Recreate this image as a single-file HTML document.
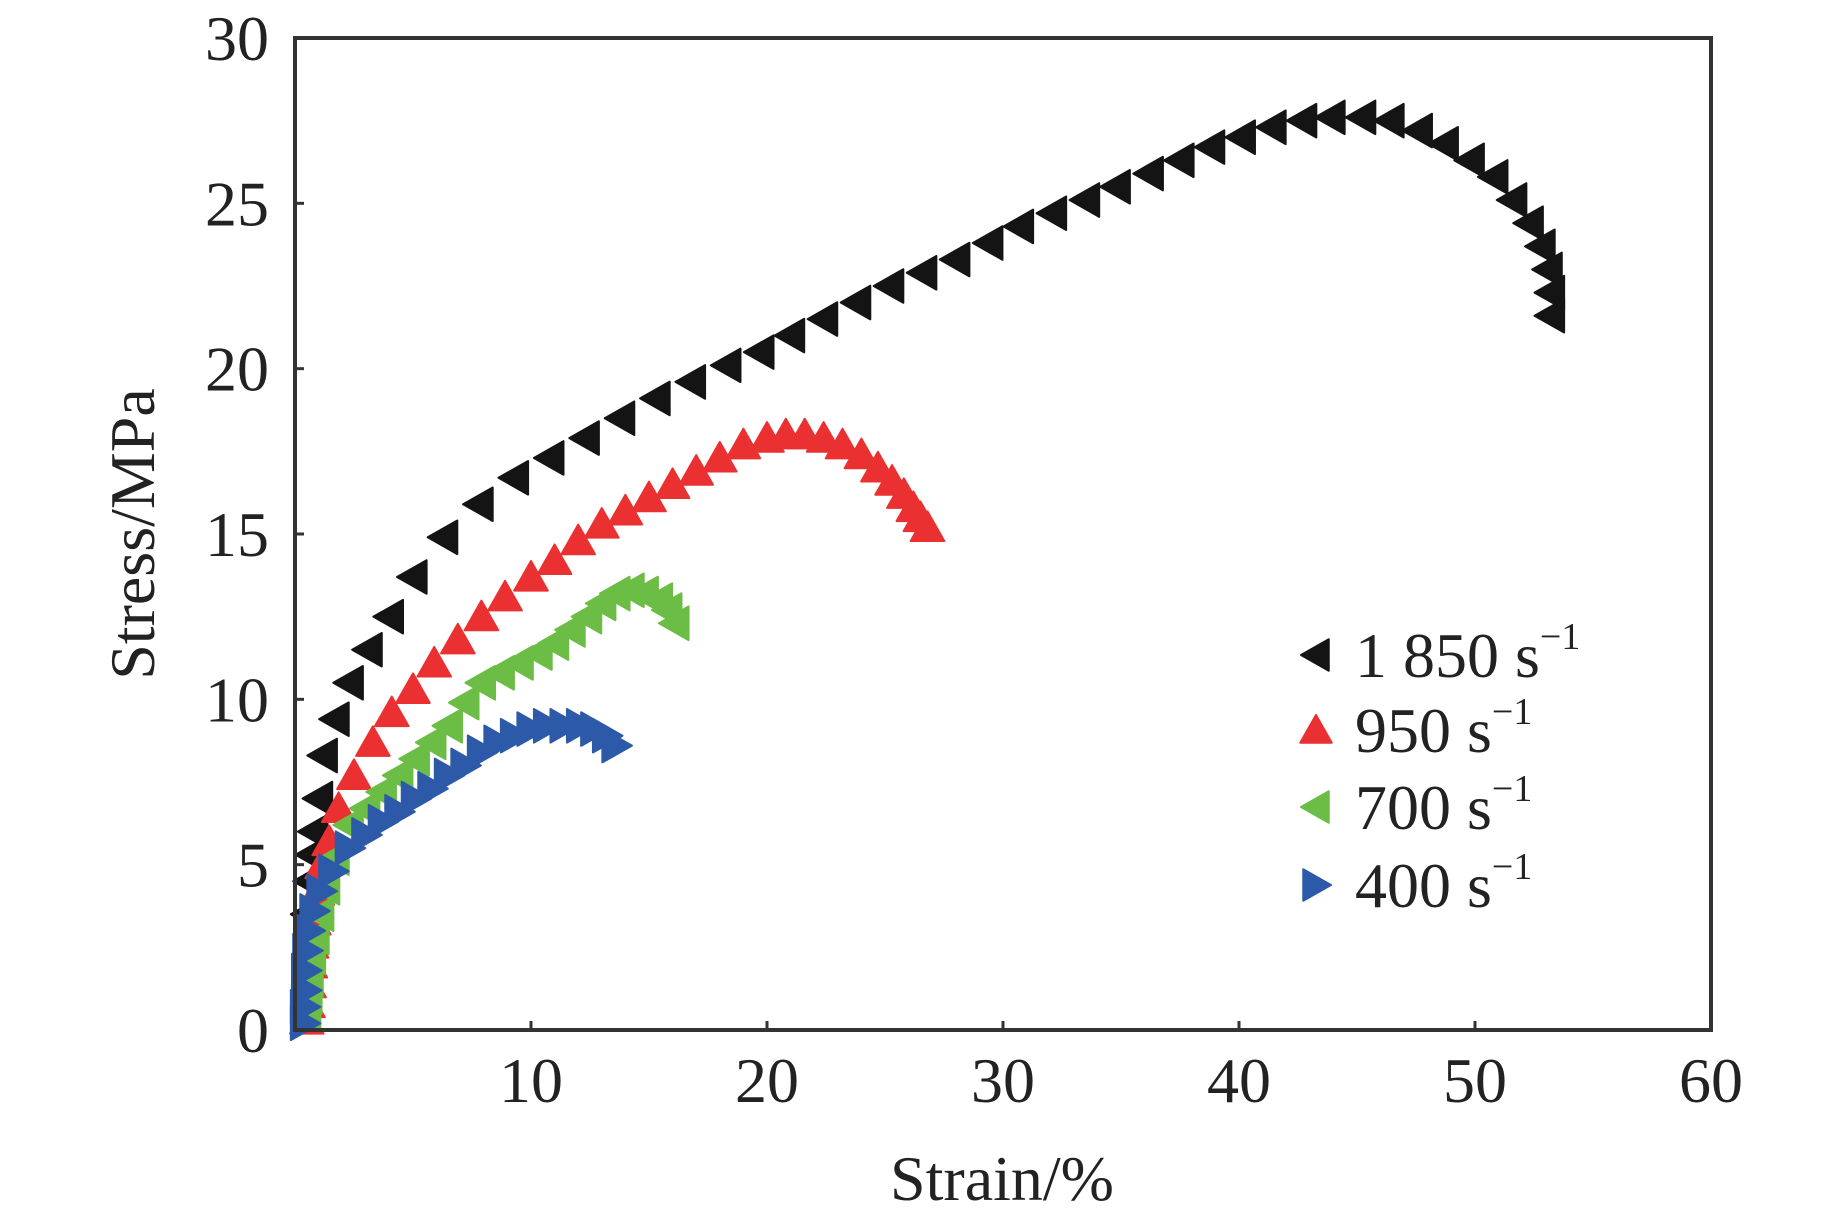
<!DOCTYPE html>
<html><head><meta charset="utf-8"><style>
html,body{margin:0;padding:0;background:#fff;}
svg{display:block;}
text{font-family:"Liberation Serif","Times New Roman",serif;fill:#222;}
</style></head><body>
<svg id="chart" width="1843" height="1217" viewBox="0 0 1843 1217">
<g id="marks"></g>
<rect x="295" y="38" width="1416" height="992" fill="none" stroke="#333" stroke-width="4"/>
<g id="ticks"></g>
<text x="1002" y="1200" font-size="64" text-anchor="middle">Strain/%</text>
<text x="0" y="0" font-size="64" text-anchor="middle" transform="translate(154,534) rotate(-90)">Stress/MPa</text>
<g id="legend"></g>
</svg>
<script>
const xTicks=[10,20,30,40,50,60];
const yTicks=[0,5,10,15,20,25,30];
const seriesNames=["1 850","950","700","400"];
const seriesColors=["#141414","#ea3030","#6cbd45","#2d5aa8"];
const seriesShapes=["left","up","left","right"];
const s1850x=[0.5,0.6,0.7,0.8,1,1.2,1.7,2.3,3.1,4,5,6.3,7.8,9.3,10.8,12.3,13.8,15.3,16.8,18.3,19.7,21,22.4,23.8,25.2,26.6,28,29.4,30.7,32.1,33.5,34.8,36.2,37.5,38.8,40.1,41.4,42.7,43.9,45.2,46.4,47.6,48.7,49.8,50.8,51.6,52.3,52.8,53.1,53.2,53.2];
const s1850y=[3.5,4.5,5.3,6,7,8.3,9.4,10.5,11.5,12.5,13.7,14.9,15.9,16.7,17.3,17.9,18.5,19.1,19.6,20.1,20.5,21,21.5,22,22.5,22.9,23.3,23.8,24.3,24.7,25.1,25.5,25.9,26.3,26.7,27,27.3,27.5,27.6,27.6,27.5,27.2,26.8,26.3,25.8,25.1,24.4,23.7,23,22.3,21.6];
const s950x=[0.5,0.55,0.6,0.65,0.7,0.8,0.95,1.15,1.45,1.85,2.5,3.3,4.1,5,5.9,6.9,7.9,8.9,10,11,12,13,14,15,16,17,18,19,20,20.8,21.6,22.4,23.2,24,24.7,25.3,25.8,26.2,26.5,26.8];
const s950y=[0.3,0.8,1.4,2,2.6,3.3,4.2,5,5.7,6.7,7.7,8.7,9.6,10.3,11.1,11.8,12.5,13.1,13.7,14.2,14.8,15.3,15.7,16.1,16.5,16.9,17.3,17.7,17.9,18,18,17.9,17.7,17.4,17,16.6,16.2,15.8,15.5,15.2];
const s700x=[0.5,0.55,0.6,0.7,0.85,1.05,1.3,1.7,2.3,3,3.7,4.4,5.1,5.8,6.5,7.2,7.9,8.7,9.5,10.3,11,11.7,12.4,13,13.6,14.2,14.8,15.4,15.8,16.1];
const s700y=[0.5,1,1.5,2.2,2.8,3.5,4.3,5.2,6.2,6.7,7.2,7.7,8.2,8.7,9.2,9.9,10.5,10.8,11.1,11.4,11.7,12.1,12.5,12.9,13.2,13.3,13.2,13,12.7,12.3];
const s400x=[0.4,0.4,0.45,0.45,0.5,0.6,0.8,1.1,1.6,2.3,3,3.7,4.4,5.1,5.8,6.5,7.2,7.9,8.6,9.3,10,10.7,11.4,12.1,12.7,13.2,13.6];
const s400y=[0.2,0.7,1.2,1.8,2.4,3,3.6,4.2,4.8,5.5,5.9,6.3,6.6,7,7.3,7.7,8,8.4,8.7,8.9,9.1,9.2,9.2,9.2,9.1,8.9,8.6];
const seriesX=[s1850x,s950x,s700x,s400x];
const seriesY=[s1850y,s950y,s700y,s400y];

const NS="http://www.w3.org/2000/svg";
const X0=295,X1=1711,Y0=1030,Y1=38;
function sx(v){return X0+(v/60)*(X1-X0);}
function sy(v){return Y0-(v/30)*(Y0-Y1);}
function tri(shape,cx,cy,s){
  const h=s/2;
  if(shape==="up")return `${cx},${cy-h} ${cx+h*1.05},${cy+h*0.85} ${cx-h*1.05},${cy+h*0.85}`;
  if(shape==="left")return `${cx-h},${cy} ${cx+h*0.85},${cy-h*1.05} ${cx+h*0.85},${cy+h*1.05}`;
  return `${cx+h},${cy} ${cx-h*0.85},${cy-h*1.05} ${cx-h*0.85},${cy+h*1.05}`;
}
const marks=document.getElementById('marks');
for(let s=0;s<seriesX.length;s++){
  const g=document.createElementNS(NS,'g');
  
  
  for(let i=0;i<seriesX[s].length;i++){
    const p=document.createElementNS(NS,'polygon');
    p.setAttribute('points',tri(seriesShapes[s],sx(seriesX[s][i]),sy(seriesY[s][i]),32));
    p.setAttribute('fill',seriesColors[s]);
    p.setAttribute('stroke',seriesColors[s]);
    p.setAttribute('stroke-width','2');
    p.setAttribute('stroke-linejoin','round');
    
    
    g.appendChild(p);
  }
  marks.appendChild(g);
}
const ticks=document.getElementById('ticks');
for(const t of xTicks){
  const l=document.createElementNS(NS,'line');
  l.setAttribute('x1',sx(t));l.setAttribute('x2',sx(t));l.setAttribute('y1',Y0);l.setAttribute('y2',Y0-9);
  l.setAttribute('stroke','#333');l.setAttribute('stroke-width','3');
  
  
  ticks.appendChild(l);
  const tx=document.createElementNS(NS,'text');
  tx.setAttribute('x',sx(t));tx.setAttribute('y',1102);tx.setAttribute('font-size','64');tx.setAttribute('text-anchor','middle');
  tx.textContent=t;
  
  
  ticks.appendChild(tx);
}
for(const t of yTicks){
  const l=document.createElementNS(NS,'line');
  l.setAttribute('x1',X0);l.setAttribute('x2',X0+9);l.setAttribute('y1',sy(t));l.setAttribute('y2',sy(t));
  l.setAttribute('stroke','#333');l.setAttribute('stroke-width','3');
  
  
  ticks.appendChild(l);
  const tx=document.createElementNS(NS,'text');
  tx.setAttribute('x',269);tx.setAttribute('y',sy(t)+22);tx.setAttribute('font-size','64');tx.setAttribute('text-anchor','end');
  tx.textContent=t;
  
  
  ticks.appendChild(tx);
}
const legend=document.getElementById('legend');
const legY=[655,730,807,885];
for(let s=0;s<seriesNames.length;s++){
  const p=document.createElementNS(NS,'polygon');
  p.setAttribute('points',tri(seriesShapes[s],1316,legY[s],30));
  p.setAttribute('fill',seriesColors[s]);
  p.setAttribute('stroke',seriesColors[s]);
  p.setAttribute('stroke-width','2');
  p.setAttribute('stroke-linejoin','round');
  
  
  legend.appendChild(p);
  const t=document.createElementNS(NS,'text');
  t.setAttribute('x',1355);t.setAttribute('y',legY[s]+22);t.setAttribute('font-size','64');
  t.innerHTML=seriesNames[s]+' s<tspan font-size="38" dy="-28">\u22121</tspan>';
  
  
  legend.appendChild(t);
}
</script>
</body></html>
